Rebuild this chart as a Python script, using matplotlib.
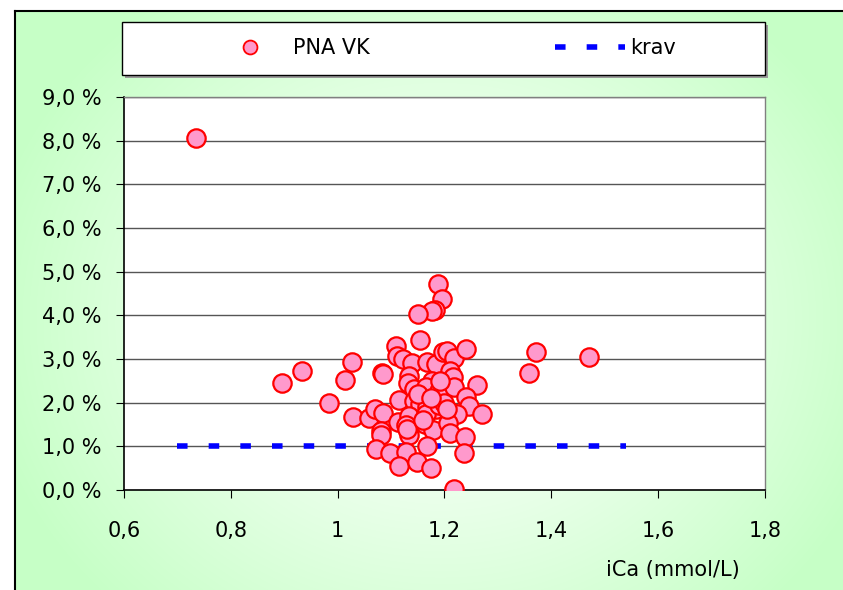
import numpy as np
import matplotlib
matplotlib.use("Agg")
import matplotlib.pyplot as plt
from matplotlib.patches import Rectangle

# ---- data ----
ica = [0.735, 0.896, 0.934, 0.984, 1.014, 1.027, 1.029, 1.083, 1.358, 1.371, 1.470,
       1.187, 1.195, 1.182, 1.177, 1.150, 1.154, 1.110, 1.111, 1.123, 1.140, 1.168,
       1.185, 1.198, 1.204, 1.218, 1.240, 1.084, 1.134, 1.132, 1.176, 1.210, 1.215,
       1.260, 1.142, 1.165, 1.190, 1.218, 1.114, 1.142, 1.155, 1.167, 1.184, 1.240,
       1.245, 1.271, 1.058, 1.070, 1.084, 1.113, 1.134, 1.128, 1.165, 1.215, 1.224,
       1.163, 1.178, 1.207, 1.210, 1.238, 1.082, 1.081, 1.134, 1.072, 1.098, 1.128,
       1.168, 1.237, 1.115, 1.148, 1.175, 1.217,
       1.190, 1.150, 1.200, 1.130, 1.160, 1.192, 1.175, 1.205]
pna = [8.05, 2.45, 2.72, 1.99, 2.52, 2.93, 1.67, 2.68, 2.68, 3.16, 3.04,
       4.71, 4.37, 4.13, 4.10, 4.04, 3.44, 3.30, 3.07, 2.99, 2.91, 2.92,
       2.88, 3.17, 3.18, 3.03, 3.24, 2.66, 2.62, 2.46, 2.49, 2.72, 2.59,
       2.40, 2.31, 2.35, 2.27, 2.35, 2.06, 2.04, 1.98, 1.91, 1.85, 2.12,
       1.93, 1.74, 1.65, 1.85, 1.77, 1.56, 1.69, 1.49, 1.74, 1.77, 1.74,
       1.51, 1.37, 1.54, 1.30, 1.22, 1.35, 1.26, 1.25, 0.95, 0.84, 0.88,
       1.01, 0.84, 0.56, 0.63, 0.51, 0.02,
       1.95, 2.20, 2.00, 1.40, 1.60, 2.50, 2.10, 1.85]
krav_x = [0.70, 1.54]
krav_y = [1.0, 1.0]

xticks = [0.6, 0.8, 1.0, 1.2, 1.4, 1.6, 1.8]
xtick_labels = ["0,6", "0,8", "1", "1,2", "1,4", "1,6", "1,8"]
yticks = list(range(0, 10))
ytick_labels = [f"{v},0 %" for v in yticks]

W, H = 843, 590
plt.rcParams['font.family'] = ['DejaVu Sans']
fig = plt.figure(figsize=(W / 100, H / 100), dpi=100)

# ---- background gradient ----
bg = fig.add_axes([0, 0, 1, 1], zorder=-10)
yy, xx = np.mgrid[0:H, 0:W]
cx, cy = 440, 320
d = np.sqrt(((xx - cx) / 460.0) ** 2 + ((yy - cy) / 400.0) ** 2)
t = np.clip(d, 0, 1) ** 1.2
green = np.array([0.78, 1.0, 0.78])
img = (1 - t)[..., None] * np.ones(3) + t[..., None] * green
img[:11, :, :] = 1.0
img[:, :15, :] = 1.0
bg.imshow(img, extent=[0, W, H, 0], aspect='auto', interpolation='bilinear')
bg.set_xlim(0, W)
bg.set_ylim(H, 0)
bg.axis('off')
bg.plot([15, W], [11, 11], color='black', lw=1.5)
bg.plot([15, 15], [11, H], color='black', lw=1.5)

# legend box
bg.add_patch(Rectangle((125, 25), 643, 53, facecolor='#999999', edgecolor='none', zorder=1))
bg.add_patch(Rectangle((122, 22), 643, 53, facecolor='white', edgecolor='black', lw=1, zorder=2))
bg.plot([250], [47], marker='o', ms=10, mfc='#FF99CC', mec='red', mew=1.3, zorder=3)
bg.text(293, 48, "PNA VK", fontsize=15, va='center', ha='left', zorder=3)
bg.plot([555, 625], [47, 47], color='blue', lw=4, linestyle=(0, (1.9, 3.8)),
        solid_capstyle='butt', dash_capstyle='butt', zorder=3)
bg.text(630, 48, "krav", fontsize=15, va='center', ha='left', zorder=3)

# ---- main axes ----
ax = fig.add_axes([124 / W, 1 - 490 / H, (765 - 124) / W, (490 - 97) / H])
ax.set_facecolor('white')
ax.set_xlim(0.6, 1.8)
ax.set_ylim(0, 9)
for v in yticks[1:]:
    ax.axhline(v, color='#555555', lw=1, zorder=1)
ax.plot(krav_x, krav_y, color='blue', lw=4, linestyle=(0, (1.9, 3.8)),
        dash_capstyle='butt', zorder=2)
ax.scatter(ica, pna, s=175, facecolor='#FF99CC', edgecolor='red', linewidths=1.6, zorder=3)

ax.set_xticks(xticks)
ax.set_xticklabels(xtick_labels, fontsize=15)
ax.set_yticks(yticks)
ax.set_yticklabels(ytick_labels, fontsize=15)
ax.tick_params(axis='x', direction='out', length=6, pad=16, color='black')
ax.tick_params(axis='y', direction='out', length=6, pad=10, color='black')
for s in ['left', 'bottom']:
    ax.spines[s].set_color('black')
    ax.spines[s].set_linewidth(1.2)
for s in ['top', 'right']:
    ax.spines[s].set_color('#808080')
    ax.spines[s].set_linewidth(1)

fig.text(740 / W, 1 - 570 / H, "iCa (mmol/L)", fontsize=15, ha='right', va='center')

fig.savefig("out.png", dpi=100)
